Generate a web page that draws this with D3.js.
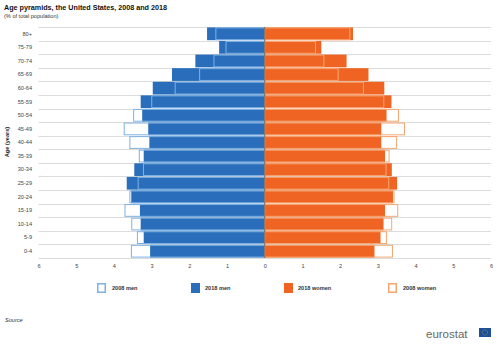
<!DOCTYPE html>
<html>
  <head>
    <style>
    body {
      margin: 0;
      background: #fff;
    }
    svg {
      display: block;
      font-family: Arial, "Liberation Sans", sans-serif;
    }
    </style>
    <script src="https://d3js.org/d3.v7.min.js"></script>
  </head>
  <body>
    <script type="text/javascript">
    // age groups, oldest on top
    var ages = ["80+", "75-79", "70-74", "65-69", "60-64", "55-59", "50-54", "45-49", "40-44",
                "35-39", "30-34", "25-29", "20-24", "15-19", "10-14", "5-9", "0-4"];

    // shares of total population (%)
    var men2018 = [1.53, 1.21, 1.84, 2.46, 2.97, 3.29, 3.25, 3.09, 3.06, 3.21, 3.46, 3.66, 3.54, 3.31, 3.29, 3.21, 3.04];
    var men2008 = [1.31, 1.04, 1.36, 1.74, 2.39, 3.01, 3.49, 3.74, 3.59, 3.34, 3.23, 3.37, 3.59, 3.72, 3.54, 3.39, 3.55];
    var women2018 = [2.34, 1.50, 2.17, 2.75, 3.17, 3.36, 3.23, 3.09, 3.09, 3.19, 3.37, 3.51, 3.40, 3.19, 3.15, 3.07, 2.91];
    var women2008 = [2.27, 1.36, 1.58, 1.96, 2.63, 3.17, 3.56, 3.72, 3.51, 3.31, 3.23, 3.30, 3.44, 3.54, 3.38, 3.24, 3.40];

    var xTicks = [-6, -5, -4, -3, -2, -1, 0, 1, 2, 3, 4, 5, 6];
    var legendItems = ["2008 men", "2018 men", "2018 women", "2008 women"];

    var width = 500, height = 349;
    var colors = {
      "2018 men": "#2a6ebb",
      "2008 men": "#7eb2e4",
      "2018 women": "#f06423",
      "2008 women": "#f7a673"
    };

    var svg = d3.select("body")
      .append("svg")
      .attr("width", width)
      .attr("height", height);

    var xScale = d3.scaleLinear()
      .domain([-6, 6])
      .range([38.5, 491]);

    var yScale = d3.scaleBand()
      .domain(ages)
      .range([27, 258])
      .paddingInner(0.06)
      .paddingOuter(0.03);

    var step = yScale.step();

    // title
    svg.append("text")
      .attr("x", 4).attr("y", 10)
      .attr("font-size", "7.2px")
      .attr("font-weight", "bold")
      .attr("fill", "#111")
      .text("Age pyramids, the United States, 2008 and 2018");
    svg.append("text")
      .attr("x", 4).attr("y", 18)
      .attr("font-size", "5.6px")
      .attr("fill", "#333")
      .text("(% of total population)");

    // horizontal grid between age groups
    var grid = d3.range(ages.length + 1).map(function(i) { return 27 + i * (231 / ages.length); });
    svg.append("g").selectAll("line")
      .data(grid)
      .enter().append("line")
      .attr("x1", xScale(-6)).attr("x2", xScale(6))
      .attr("y1", function(d) { return Math.round(d) + 0.5; })
      .attr("y2", function(d) { return Math.round(d) + 0.5; })
      .attr("stroke", "#dcdcdc")
      .attr("stroke-width", 1);

    var rows = ages.map(function(a, i) {
      return {age: a, m18: men2018[i], m08: men2008[i], w18: women2018[i], w08: women2008[i]};
    });

    // 2018 bars, filled
    svg.append("g").selectAll("rect")
      .data(rows)
      .enter().append("rect")
      .attr("x", function(d) { return xScale(-d.m18); })
      .attr("y", function(d) { return yScale(d.age); })
      .attr("width", function(d) { return xScale(0) - xScale(-d.m18); })
      .attr("height", yScale.bandwidth())
      .attr("fill", colors["2018 men"]);
    svg.append("g").selectAll("rect")
      .data(rows)
      .enter().append("rect")
      .attr("x", xScale(0))
      .attr("y", function(d) { return yScale(d.age); })
      .attr("width", function(d) { return xScale(d.w18) - xScale(0); })
      .attr("height", yScale.bandwidth())
      .attr("fill", colors["2018 women"]);

    // 2008 bars, outline only
    svg.append("g").selectAll("rect")
      .data(rows)
      .enter().append("rect")
      .attr("x", function(d) { return xScale(-d.m08) + 0.5; })
      .attr("y", function(d) { return yScale(d.age) + 0.5; })
      .attr("width", function(d) { return xScale(0) - xScale(-d.m08) - 0.5; })
      .attr("height", yScale.bandwidth() - 1)
      .attr("fill", "none")
      .attr("stroke", colors["2008 men"])
      .attr("stroke-width", 1);
    svg.append("g").selectAll("rect")
      .data(rows)
      .enter().append("rect")
      .attr("x", xScale(0))
      .attr("y", function(d) { return yScale(d.age) + 0.5; })
      .attr("width", function(d) { return xScale(d.w08) - xScale(0) - 0.5; })
      .attr("height", yScale.bandwidth() - 1)
      .attr("fill", "none")
      .attr("stroke", colors["2008 women"])
      .attr("stroke-width", 1);

    // zero line
    svg.append("line")
      .attr("x1", xScale(0)).attr("x2", xScale(0))
      .attr("y1", 27).attr("y2", 258)
      .attr("stroke", "#555")
      .attr("stroke-width", 0.8);

    // y axis labels
    var yAxis = svg.append("g")
      .attr("transform", "translate(32,0)")
      .call(d3.axisLeft(yScale).tickSize(0).tickPadding(0));
    yAxis.select(".domain").remove();
    yAxis.selectAll("text")
      .attr("font-size", "5.6px")
      .attr("font-family", "Arial, 'Liberation Sans', sans-serif")
      .attr("fill", "#444");

    svg.append("text")
      .attr("transform", "translate(9,142) rotate(-90)")
      .attr("text-anchor", "middle")
      .attr("font-size", "5.6px")
      .attr("font-weight", "bold")
      .attr("fill", "#222")
      .text("Age (years)");

    // x axis, absolute values either side of zero
    var xAxis = svg.append("g")
      .attr("transform", "translate(0,261)")
      .call(d3.axisBottom(xScale).tickValues(xTicks)
        .tickFormat(function(d) { return Math.abs(d); })
        .tickSize(0).tickPadding(3));
    xAxis.select(".domain").remove();
    xAxis.selectAll("text")
      .attr("font-size", "5.6px")
      .attr("font-family", "Arial, 'Liberation Sans', sans-serif")
      .attr("fill", "#444");

    // legend
    var legendX = [97, 191, 284, 388];
    var legend = svg.append("g").selectAll("g")
      .data(legendItems)
      .enter().append("g")
      .attr("transform", function(d, i) { return "translate(" + legendX[i] + ",283)"; });
    legend.append("rect")
      .attr("x", function(d) { return d.indexOf("2008") === 0 ? 0.75 : 0; })
      .attr("y", function(d) { return d.indexOf("2008") === 0 ? 0.75 : 0; })
      .attr("width", function(d) { return d.indexOf("2008") === 0 ? 7.5 : 9; })
      .attr("height", function(d) { return d.indexOf("2008") === 0 ? 8.5 : 10; })
      .attr("fill", function(d) { return d.indexOf("2008") === 0 ? "#fff" : colors[d]; })
      .attr("stroke", function(d) { return d.indexOf("2008") === 0 ? colors[d] : "none"; })
      .attr("stroke-width", 1.5);
    legend.append("text")
      .attr("x", function(d) { return d.indexOf("2008") === 0 ? 15 : 14; })
      .attr("y", 7)
      .attr("font-size", "5.6px")
      .attr("font-weight", "bold")
      .attr("fill", "#333")
      .text(function(d) { return d; });

    // footer
    svg.append("text")
      .attr("x", 5).attr("y", 322)
      .attr("font-size", "5.6px")
      .attr("font-style", "italic")
      .attr("fill", "#333")
      .text("Source");

    svg.append("text")
      .attr("x", 426).attr("y", 338)
      .attr("font-size", "11.5px")
      .attr("fill", "#666")
      .text("eurostat");
    svg.append("rect")
      .attr("x", 479).attr("y", 328)
      .attr("width", 12).attr("height", 9)
      .attr("fill", "#1d4f9c");
    svg.append("circle")
      .attr("cx", 485).attr("cy", 332.5)
      .attr("r", 2.6)
      .attr("fill", "none")
      .attr("stroke", "#f2c900")
      .attr("stroke-width", 0.6)
      .attr("stroke-dasharray", "0.6 0.6");

  </script>
  </body>
</html>
